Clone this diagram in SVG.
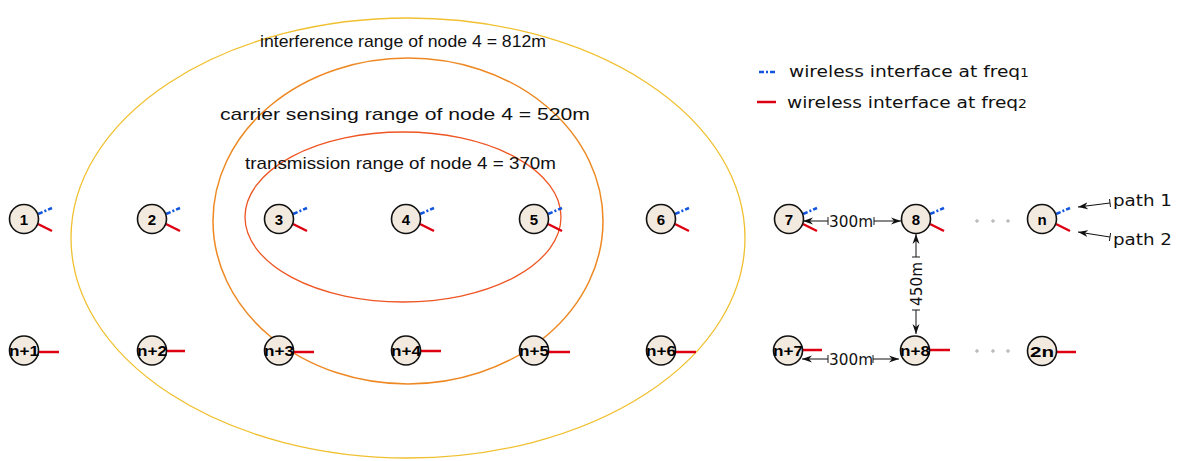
<svg xmlns="http://www.w3.org/2000/svg" width="1186" height="461" viewBox="0 0 1186 461">
<defs>
<style>
.nd{fill:#f2e9df;stroke:#111;stroke-width:1.6}
.lb{font-family:"Liberation Sans",Arial,sans-serif;font-weight:bold;font-size:15px;fill:#000;text-anchor:middle}
.lb2{font-family:"Liberation Sans",Arial,sans-serif;font-weight:bold;font-size:15px;fill:#000;text-anchor:middle}
.bl{stroke:#1155dd;stroke-width:2.5;stroke-dasharray:5 2 2 2;fill:none}
.rd{stroke:#dd0011;stroke-width:2.5;fill:none}
.tx{font-family:"Liberation Sans",Arial,sans-serif;font-size:17px;fill:#111}
.dj{font-family:"DejaVu Sans",sans-serif;font-size:16px;fill:#111}
.ar{stroke:#111;stroke-width:1;fill:none;marker-end:url(#ah);marker-start:url(#tk)}
.dot{fill:#fff;stroke:#888;stroke-width:0.8}
</style>
<marker id="ah" viewBox="0 0 10 10" refX="10" refY="5" markerWidth="10" markerHeight="10" orient="auto" markerUnits="userSpaceOnUse">
<path d="M0,1.5 L10,5 L0,8.5 L3,5 Z" fill="#111"/>
</marker>
<marker id="tk" viewBox="0 0 2 10" refX="1" refY="5" markerWidth="2" markerHeight="8" orient="auto" markerUnits="userSpaceOnUse">
<path d="M1,0 L1,10" stroke="#111" stroke-width="1.2"/>
</marker>
</defs>
<rect width="1186" height="461" fill="#fff"/>
<g id="ranges">
<ellipse cx="408" cy="238" rx="337" ry="220" fill="none" stroke="#f0c030" stroke-width="1.3"/>
<ellipse cx="408" cy="221" rx="195" ry="163" fill="none" stroke="#ee8822" stroke-width="1.5"/>
<ellipse cx="403" cy="217" rx="158" ry="85" fill="none" stroke="#ee5522" stroke-width="1.3"/>
<text class="tx" x="260" y="47" font-size="18" textLength="286" lengthAdjust="spacingAndGlyphs">interference range of node 4 = 812m</text>
<text class="tx" x="220" y="120" font-size="15.5" textLength="370" lengthAdjust="spacingAndGlyphs">carrier sensing range of node 4 = 520m</text>
<text class="tx" x="245" y="169" textLength="311" lengthAdjust="spacingAndGlyphs">transmission range of node 4 = 370m</text>
</g>
<g id="legend">
<line x1="759" y1="72" x2="777" y2="72" class="bl"/>
<text class="dj" x="789" y="77" font-size="18" textLength="240" lengthAdjust="spacingAndGlyphs">wireless interface at freq<tspan font-size="12">1</tspan></text>
<line x1="757" y1="102" x2="776" y2="102" class="rd"/>
<text class="dj" x="787" y="108" font-size="18" textLength="240" lengthAdjust="spacingAndGlyphs">wireless interface at freq<tspan font-size="12">2</tspan></text>
</g>
<g id="connectors">
<line x1="828" y1="221" x2="803" y2="221" class="ar"/>
<line x1="874" y1="221" x2="901" y2="221" class="ar"/>
<text class="dj" x="851" y="227" text-anchor="middle" font-size="17" textLength="44" lengthAdjust="spacingAndGlyphs">300m</text>
<line x1="828" y1="359" x2="802" y2="359" class="ar"/>
<line x1="873" y1="359" x2="899" y2="359" class="ar"/>
<text class="dj" x="851" y="365" text-anchor="middle" font-size="17" textLength="44" lengthAdjust="spacingAndGlyphs">300m</text>
<line x1="916" y1="257" x2="916" y2="234" class="ar"/>
<line x1="916" y1="310" x2="916" y2="334" class="ar"/>
<text class="dj" transform="translate(922,284) rotate(-90)" text-anchor="middle" font-size="17" textLength="44" lengthAdjust="spacingAndGlyphs">450m</text>
<line x1="1110" y1="203" x2="1078" y2="207" class="ar"/>
<line x1="1110" y1="237" x2="1078" y2="232" class="ar"/>
<text class="dj" x="1113" y="206" font-size="19" textLength="59" lengthAdjust="spacingAndGlyphs">path 1</text>
<text class="dj" x="1113" y="245" font-size="19" textLength="59" lengthAdjust="spacingAndGlyphs">path 2</text>
<circle class="dot" cx="977" cy="221" r="1.2"/>
<circle class="dot" cx="993" cy="221" r="1.2"/>
<circle class="dot" cx="1008" cy="221" r="1.2"/>
<circle class="dot" cx="977" cy="351" r="1.2"/>
<circle class="dot" cx="993" cy="351" r="1.2"/>
<circle class="dot" cx="1008" cy="351" r="1.2"/>
</g>
<g id="node1"><line x1="38" y1="214" x2="52" y2="208" class="bl"/><line x1="38" y1="224" x2="52" y2="231" class="rd"/><circle class="nd" cx="24" cy="219" r="14.5"/><text class="lb" x="24" y="224.5">1</text></g>
<g id="node2"><line x1="166" y1="214" x2="180" y2="208" class="bl"/><line x1="166" y1="224" x2="180" y2="231" class="rd"/><circle class="nd" cx="152" cy="219" r="14.5"/><text class="lb" x="152" y="224.5">2</text></g>
<g id="node3"><line x1="293" y1="214" x2="307" y2="208" class="bl"/><line x1="293" y1="224" x2="307" y2="231" class="rd"/><circle class="nd" cx="279" cy="219" r="14.5"/><text class="lb" x="279" y="224.5">3</text></g>
<g id="node4"><line x1="420" y1="214" x2="434" y2="208" class="bl"/><line x1="420" y1="224" x2="434" y2="231" class="rd"/><circle class="nd" cx="406" cy="219" r="14.5"/><text class="lb" x="406" y="224.5">4</text></g>
<g id="node5"><line x1="548" y1="214" x2="562" y2="208" class="bl"/><line x1="548" y1="224" x2="562" y2="231" class="rd"/><circle class="nd" cx="534" cy="219" r="14.5"/><text class="lb" x="534" y="224.5">5</text></g>
<g id="node6"><line x1="675" y1="214" x2="689" y2="208" class="bl"/><line x1="675" y1="224" x2="689" y2="231" class="rd"/><circle class="nd" cx="661" cy="219" r="14.5"/><text class="lb" x="661" y="224.5">6</text></g>
<g id="node7"><line x1="803" y1="214" x2="817" y2="208" class="bl"/><line x1="803" y1="224" x2="817" y2="231" class="rd"/><circle class="nd" cx="789" cy="219" r="14.5"/><text class="lb" x="789" y="224.5">7</text></g>
<g id="node8"><line x1="930" y1="214" x2="944" y2="208" class="bl"/><line x1="930" y1="224" x2="944" y2="231" class="rd"/><circle class="nd" cx="916" cy="219" r="14.5"/><text class="lb" x="916" y="224.5">8</text></g>
<g id="noden"><line x1="1056" y1="214" x2="1070" y2="208" class="bl"/><line x1="1056" y1="224" x2="1070" y2="231" class="rd"/><circle class="nd" cx="1042" cy="219" r="14.5"/><text class="lb" x="1042" y="224.5">n</text></g>
<g id="noden1"><line x1="38" y1="352" x2="59" y2="352" class="rd"/><circle class="nd" cx="24" cy="350.5" r="14.5"/><text class="lb2" x="24" y="356" textLength="30" lengthAdjust="spacingAndGlyphs">n+1</text></g>
<g id="noden2"><line x1="166" y1="351" x2="185" y2="351" class="rd"/><circle class="nd" cx="152" cy="350.5" r="14.5"/><text class="lb2" x="152" y="356" textLength="30" lengthAdjust="spacingAndGlyphs">n+2</text></g>
<g id="noden3"><line x1="293" y1="352" x2="314" y2="352" class="rd"/><circle class="nd" cx="279" cy="350.5" r="14.5"/><text class="lb2" x="279" y="356" textLength="30" lengthAdjust="spacingAndGlyphs">n+3</text></g>
<g id="noden4"><line x1="420" y1="351" x2="441" y2="351" class="rd"/><circle class="nd" cx="406" cy="350.5" r="14.5"/><text class="lb2" x="406" y="356" textLength="30" lengthAdjust="spacingAndGlyphs">n+4</text></g>
<g id="noden5"><line x1="548" y1="352" x2="570" y2="352" class="rd"/><circle class="nd" cx="534" cy="350.5" r="14.5"/><text class="lb2" x="534" y="356" textLength="30" lengthAdjust="spacingAndGlyphs">n+5</text></g>
<g id="noden6"><line x1="675" y1="352" x2="696" y2="352" class="rd"/><circle class="nd" cx="661" cy="350.5" r="14.5"/><text class="lb2" x="661" y="356" textLength="30" lengthAdjust="spacingAndGlyphs">n+6</text></g>
<g id="noden7"><line x1="803" y1="350" x2="822" y2="350" class="rd"/><circle class="nd" cx="788" cy="350.5" r="14.5"/><text class="lb2" x="788" y="356" textLength="30" lengthAdjust="spacingAndGlyphs">n+7</text></g>
<g id="noden8"><line x1="929" y1="350" x2="950" y2="350" class="rd"/><circle class="nd" cx="915" cy="350.5" r="14.5"/><text class="lb2" x="915" y="356" textLength="30" lengthAdjust="spacingAndGlyphs">n+8</text></g>
<g id="node2n"><line x1="1056" y1="352" x2="1076" y2="352" class="rd"/><circle class="nd" cx="1042" cy="351" r="14.5"/><text class="lb2" x="1042" y="356.5" textLength="24" lengthAdjust="spacingAndGlyphs">2n</text></g>
</svg>
